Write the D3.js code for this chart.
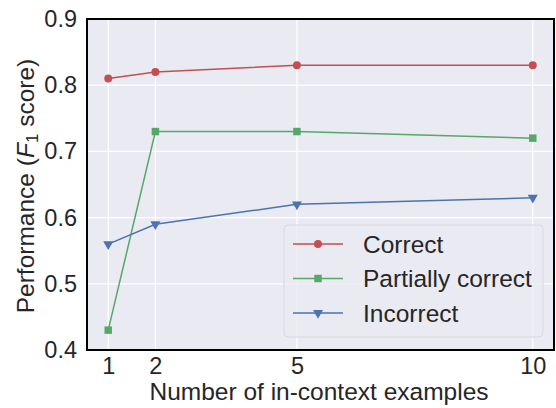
<!DOCTYPE html>
<html>
<head>
<meta charset="utf-8">
<script src="https://cdn.jsdelivr.net/npm/d3@7"></script>
<style>
body { margin: 0; background: #fff; }
text { font-family: "Liberation Sans", Arial, sans-serif; fill: #262626; }
</style>
</head>
<body>
<svg id="svg01" width="556" height="408"></svg>
<script>
const shots = [1, 2, 5, 10]
const correct = [0.81, 0.82, 0.83, 0.83]
const partial = [0.43, 0.73, 0.73, 0.72]
const incorrect = [0.56, 0.59, 0.62, 0.63]
const yTicks = [0.4, 0.5, 0.6, 0.7, 0.8, 0.9]

const series = [
    {name: "Correct", values: correct, color: "#C44E52", marker: "circle"},
    {name: "Partially correct", values: partial, color: "#55A868", marker: "square"},
    {name: "Incorrect", values: incorrect, color: "#4C72B0", marker: "triangle"}
]

const tickFs = 23.5
const labelFs = 24.5
const legendFs = 24.5

margin = {top: 19, right: 2, bottom: 58, left: 87}
width = 556
height = 408

x = d3.scaleLinear()
    .domain([0.55, 10.45])
    .range([margin.left, width - margin.right])

y = d3.scaleLinear()
    .domain([0.4, 0.9])
    .range([height - margin.bottom, margin.top])

const svg = d3.select("#svg01")

// background
svg.append("rect")
    .attr("x", margin.left).attr("y", margin.top)
    .attr("width", width - margin.right - margin.left)
    .attr("height", height - margin.bottom - margin.top)
    .attr("fill", "#EAEAF2")

// grid
svg.append("g").selectAll("line").data(shots).join("line")
    .attr("x1", d => x(d)).attr("x2", d => x(d))
    .attr("y1", margin.top).attr("y2", height - margin.bottom)
    .attr("stroke", "#fff").attr("stroke-width", 1.2)
svg.append("g").selectAll("line").data(yTicks).join("line")
    .attr("y1", d => y(d)).attr("y2", d => y(d))
    .attr("x1", margin.left).attr("x2", width - margin.right)
    .attr("stroke", "#fff").attr("stroke-width", 1.2)

const symbolFor = m => m == "circle" ? d3.symbol(d3.symbolCircle, 50)
    : m == "square" ? d3.symbol(d3.symbolSquare, 56)
    : d3.symbol(d3.symbolTriangle, 44)

const line = d3.line()
    .x((d, i) => x(shots[i]))
    .y(d => y(d))

series.forEach(s => {
    svg.append("path")
        .attr("d", line(s.values))
        .attr("fill", "none")
        .attr("stroke", s.color)
        .attr("stroke-width", 1.5)
    svg.append("g").selectAll("path").data(s.values).join("path")
        .attr("d", symbolFor(s.marker))
        .attr("transform", (d, i) => `translate(${x(shots[i])},${y(d)})` + (s.marker == "triangle" ? " rotate(180)" : ""))
        .attr("fill", s.color)
})

// frame
svg.append("rect")
    .attr("x", margin.left).attr("y", margin.top)
    .attr("width", width - margin.right - margin.left)
    .attr("height", height - margin.bottom - margin.top)
    .attr("fill", "none").attr("stroke", "#000").attr("stroke-width", 2)

// axes
xAxis = g => g
    .attr("transform", `translate(0,${height - margin.bottom})`)
    .call(d3.axisBottom(x).tickValues(shots).tickSize(0).tickPadding(7))
    .call(g => g.select(".domain").remove())
    .call(g => g.selectAll("text").attr("font-size", tickFs).attr("fill", "#262626")
        .style("font-family", "Liberation Sans, Arial, sans-serif"))

yAxis = g => g
    .attr("transform", `translate(${margin.left},0)`)
    .call(d3.axisLeft(y).tickValues(yTicks).tickFormat(d3.format(".1f")).tickSize(0).tickPadding(10))
    .call(g => g.select(".domain").remove())
    .call(g => g.selectAll("text").attr("font-size", tickFs).attr("fill", "#262626")
        .style("font-family", "Liberation Sans, Arial, sans-serif"))

svg.append("g").call(xAxis)
svg.append("g").call(yAxis)

svg.append("text")
    .attr("x", 319)
    .attr("y", 400)
    .attr("text-anchor", "middle")
    .attr("font-size", labelFs)
    .text("Number of in-context examples")

const yl = svg.append("text")
    .attr("transform", `translate(34,186) rotate(-90)`)
    .attr("text-anchor", "middle")
    .attr("font-size", labelFs)
yl.append("tspan").text("Performance (")
yl.append("tspan").attr("font-style", "italic").text("F")
yl.append("tspan").attr("font-size", 17).attr("dy", 4).text("1")
yl.append("tspan").attr("dy", -4).text(" score)")

// legend
const lg = svg.append("g")
lg.append("rect")
    .attr("x", 284).attr("y", 225).attr("width", 259).attr("height", 112)
    .attr("rx", 4).attr("fill", "#EAEAF2").attr("fill-opacity", 0.8)
    .attr("stroke", "#d8d8de").attr("stroke-width", 1)
series.forEach((s, i) => {
    const yy = 244 + i * 34.5
    lg.append("line")
        .attr("x1", 293).attr("x2", 343).attr("y1", yy).attr("y2", yy)
        .attr("stroke", s.color).attr("stroke-width", 1.5)
    lg.append("path")
        .attr("d", symbolFor(s.marker))
        .attr("transform", `translate(318,${yy})` + (s.marker == "triangle" ? " rotate(180)" : ""))
        .attr("fill", s.color)
    lg.append("text")
        .attr("x", 363).attr("y", yy + 8.5)
        .attr("font-size", legendFs)
        .text(s.name)
})
</script>
</body>
</html>
